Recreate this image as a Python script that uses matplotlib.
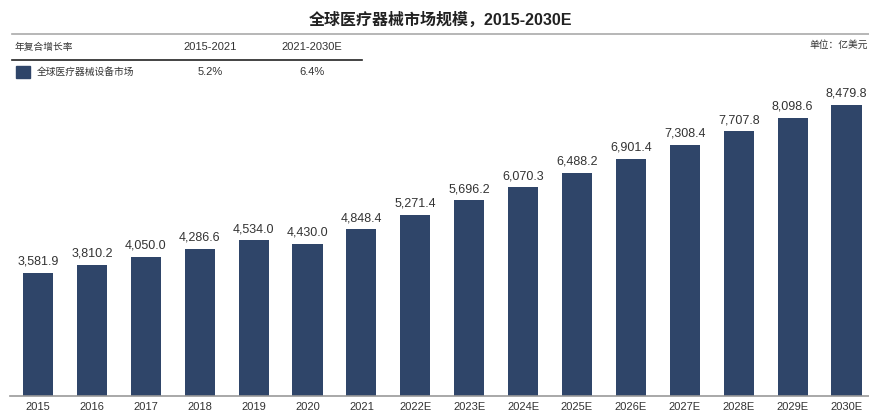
import matplotlib.pyplot as plt
import matplotlib.patches as mpatches
import numpy as np

plt.rcParams['font.family'] = ['Liberation Sans', 'Noto Sans CJK SC', 'DejaVu Sans']

years = ['2015', '2016', '2017', '2018', '2019', '2020', '2021', '2022E',
         '2023E', '2024E', '2025E', '2026E', '2027E', '2028E', '2029E', '2030E']
market = [3581.9, 3810.2, 4050.0, 4286.6, 4534.0, 4430.0, 4848.4, 5271.4,
          5696.2, 6070.3, 6488.2, 6901.4, 7308.4, 7707.8, 8098.6, 8479.8]
cagr_periods = ['2015-2021', '2021-2030E']
cagr_values = ['5.2%', '6.4%']
series_name = '全球医疗器械设备市场'

W, H = 870, 416
bar_color = '#2f4569'

fig = plt.figure(figsize=(W / 100, H / 100), dpi=100)

# plot area in pixel terms
left_px, right_px = 10, 870
bottom_px, top_px = 396, 80
ax = fig.add_axes([left_px / W, 1 - bottom_px / H,
                   (right_px - left_px) / W, (bottom_px - top_px) / H])

x = np.arange(len(years))
ax.bar(x, market, width=0.56, color=bar_color, zorder=2)
for xi, v in zip(x, market):
    ax.text(xi, v + 150, f'{v:,.1f}', ha='center', va='bottom',
            fontsize=9, color='#333333')

step = 53.9
ax.set_xlim(-(38 - left_px) / step, (right_px - 38) / step)
ax.set_ylim(0, 9200)
ax.set_yticks([])
ax.set_xticks(x)
ax.set_xticklabels(years, fontsize=8, color='#333333')
ax.tick_params(axis='x', length=0, pad=4)
for s in ['top', 'right', 'left']:
    ax.spines[s].set_visible(False)
ax.spines['bottom'].set_color('#999999')
ax.spines['bottom'].set_linewidth(1.2)

# title and header block
fig.text(440 / W, 1 - 20 / H, '全球医疗器械市场规模，2015-2030E', ha='center', va='center',
         fontsize=11.5, fontweight='bold', color='#222222')
fig.add_artist(plt.Line2D([12 / W, 1], [1 - 34 / H, 1 - 34 / H], color='#aaaaaa', lw=1.2))

fig.text(15 / W, 1 - 47 / H, '年复合增长率', ha='left', va='center', fontsize=7, color='#333333')
for px, lab in zip([210, 312], cagr_periods):
    fig.text(px / W, 1 - 47 / H, lab, ha='center', va='center', fontsize=8, color='#333333')
fig.add_artist(plt.Line2D([12 / W, 362 / W], [1 - 60 / H, 1 - 60 / H], color='#222222', lw=1.2))

fig.add_artist(mpatches.Rectangle((16 / W, 1 - 78 / H), 14 / W, 12 / H,
                                  transform=fig.transFigure, color=bar_color))
fig.text(37 / W, 1 - 72 / H, series_name, ha='left', va='center', fontsize=7, color='#333333')
for px, v in zip([210, 312], cagr_values):
    fig.text(px / W, 1 - 72 / H, v, ha='center', va='center', fontsize=8, color='#333333')

fig.text(868 / W, 1 - 45 / H, '单位：亿美元', ha='right', va='center', fontsize=7,
         style='italic', color='#333333')

fig.savefig('out.png', dpi=100)
